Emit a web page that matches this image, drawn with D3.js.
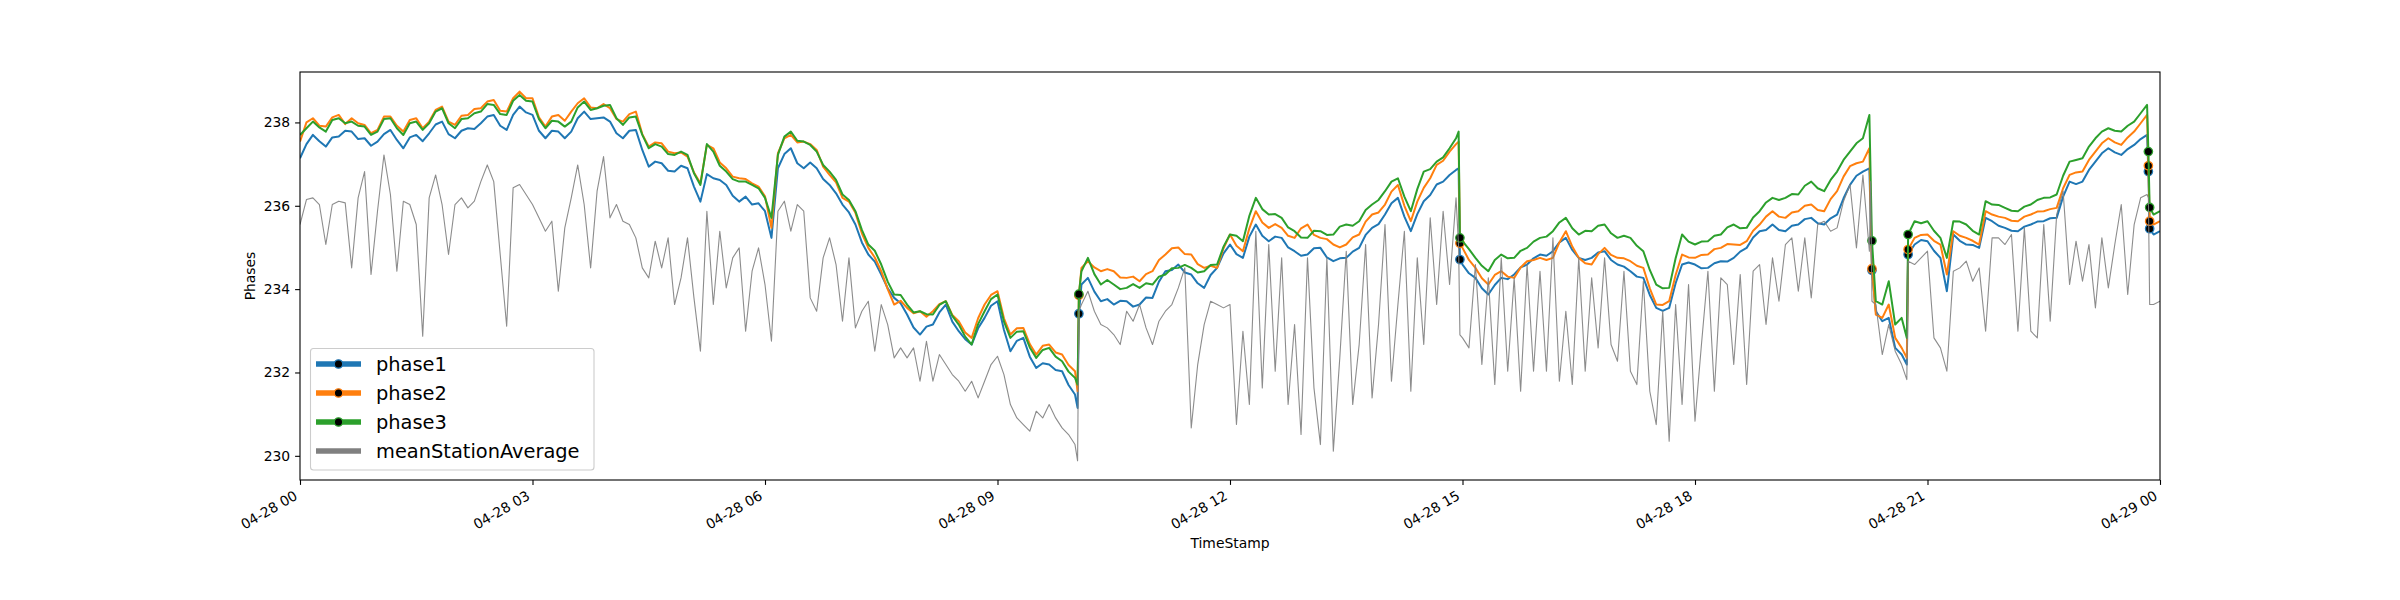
<!DOCTYPE html>
<html><head><meta charset="utf-8">
<script src="https://cdn.jsdelivr.net/npm/d3@7"></script>
<style>html,body{margin:0;padding:0;background:#fff;} svg{display:block;font-family:"DejaVu Sans",sans-serif;}</style>
</head><body><svg id="chart" width="2400" height="600"></svg>
<script>
// ---- data: 5-minute samples from 04-28 00:00 to 04-29 00:00 (289 each) ----
const phase1 = [
// 00:00-03:55
237.14,237.48,237.70,237.55,237.42,237.64,237.66,237.80,237.78,237.60,237.62,237.44,237.54,237.72,237.82,237.58,237.38,237.64,237.70,237.55,237.74,237.95,238.02,237.72,
237.62,237.80,237.86,237.84,237.98,238.14,238.18,237.92,237.82,238.18,238.38,238.24,238.18,237.80,237.62,237.80,237.78,237.62,237.78,238.10,238.26,238.08,238.10,238.12,
// 04:00-07:55
238.02,237.74,237.62,237.80,237.82,237.34,236.94,237.06,237.02,236.84,236.82,236.96,236.90,236.46,236.10,236.76,236.66,236.62,236.50,236.24,236.10,236.22,236.03,236.06,
235.87,235.23,236.90,237.24,237.38,237.02,236.90,237.04,236.90,236.64,236.50,236.30,236.03,235.84,235.55,235.12,234.83,234.66,234.35,234.02,233.79,233.66,233.39,233.08,
// 08:00-09:55
232.91,233.10,233.15,233.44,233.63,233.22,232.99,232.80,232.67,233.06,233.31,233.60,233.71,233.02,232.51,232.76,232.83,232.38,232.11,232.22,232.19,232.06,232.03,231.70,
// 10:00-11:55
231.47,234.11,234.27,233.94,233.71,233.76,233.63,233.72,233.71,233.58,233.63,233.80,233.79,234.18,234.43,234.46,234.59,234.40,234.35,234.14,234.03,234.34,234.51,234.86,
// 12:00-14:55
235.07,234.84,234.75,235.26,235.55,235.28,235.15,235.26,235.23,235.00,234.91,234.80,234.83,234.98,234.99,234.76,234.67,234.74,234.75,234.90,234.99,235.30,235.47,235.56,
235.79,236.06,236.19,235.74,235.39,235.80,236.11,236.26,236.51,236.58,236.74,236.86,
// 15:00-15:55
234.59,234.38,234.27,234.02,233.87,234.10,234.27,234.24,234.35,234.52,234.59,234.74,
// 16:00-19:55
234.83,234.80,234.91,235.12,235.23,234.94,234.75,234.70,234.75,234.88,234.91,234.70,234.59,234.54,234.43,234.30,234.27,233.86,233.55,233.48,233.55,234.14,234.59,234.64,
234.59,234.50,234.51,234.62,234.67,234.66,234.75,234.90,234.99,235.24,235.39,235.42,235.55,235.42,235.39,235.52,235.55,235.68,235.71,235.58,235.55,235.70,235.79,236.18,
// 20:00-24:00
236.50,236.72,236.82,236.90,233.47,233.23,233.31,232.59,232.43,234.83,235.07,235.18,235.15,234.92,234.75,233.95,235.31,235.16,235.07,235.06,234.99,235.71,235.63,235.52,
235.47,235.40,235.39,235.50,235.55,235.62,235.63,235.70,235.71,236.22,236.58,236.52,236.58,236.86,237.06,237.26,237.38,237.28,237.22,237.36,237.46,237.60,237.70,235.31,
235.39];

const phase2 = [
237.54,238.00,238.10,237.92,237.90,238.12,238.18,237.96,238.10,237.98,237.94,237.74,237.82,238.14,238.14,237.92,237.78,238.06,238.10,237.86,238.02,238.30,238.38,238.02,
237.94,238.16,238.18,238.32,238.34,238.50,238.54,238.28,238.26,238.58,238.74,238.58,238.58,238.12,237.90,238.14,238.18,238.04,238.26,238.46,238.58,238.36,238.34,238.44,
238.34,238.08,238.02,238.20,238.26,237.72,237.42,237.52,237.50,237.30,237.26,237.28,237.18,236.80,236.54,237.46,237.38,237.04,236.90,236.70,236.66,236.64,236.54,236.46,
236.23,235.47,237.26,237.62,237.70,237.52,237.54,237.48,237.34,236.94,236.74,236.56,236.19,236.10,235.83,235.34,234.99,234.76,234.43,234.00,233.63,233.72,233.55,233.42,
233.47,233.34,233.47,233.64,233.71,233.38,233.23,232.96,232.83,233.30,233.63,233.86,233.95,233.30,232.91,233.06,233.07,232.68,232.43,232.64,232.67,232.48,232.43,232.18,
232.03,234.51,234.67,234.52,234.43,234.48,234.43,234.28,234.27,234.30,234.19,234.36,234.43,234.70,234.83,234.98,235.00,234.84,234.83,234.60,234.51,234.56,234.51,234.98,
235.31,235.04,234.91,235.46,235.87,235.60,235.47,235.56,235.47,235.28,235.23,235.46,235.55,235.30,235.23,235.20,235.07,235.00,235.07,235.24,235.31,235.62,235.79,235.84,
236.03,236.34,236.50,236.00,235.63,236.10,236.43,236.66,236.98,237.08,237.30,237.48,
234.99,234.70,234.51,234.26,234.11,234.34,234.43,234.30,234.27,234.52,234.67,234.70,
234.75,234.70,234.75,235.12,235.39,235.02,234.75,234.62,234.59,234.84,234.99,234.82,234.75,234.74,234.67,234.56,234.51,234.02,233.63,233.62,233.71,234.34,234.83,234.76,
234.75,234.82,234.83,234.96,234.99,235.08,235.07,235.06,235.15,235.40,235.55,235.74,235.87,235.74,235.71,235.84,235.87,236.00,236.03,235.90,235.87,236.16,236.35,236.70,
236.95,237.02,237.06,237.38,233.39,233.31,233.63,232.83,232.59,234.95,235.23,235.30,235.31,235.16,235.07,234.35,235.39,235.28,235.23,235.16,235.07,235.87,235.79,235.74,
235.71,235.64,235.63,235.74,235.79,235.86,235.87,235.92,235.95,236.42,236.74,236.80,236.82,237.10,237.30,237.50,237.62,237.52,237.46,237.64,237.78,237.98,238.18,235.55,
235.63];

const phase3 = [
237.70,237.86,238.02,237.88,237.78,238.06,238.10,237.98,238.02,237.92,237.90,237.70,237.78,238.08,238.10,237.86,237.70,237.98,238.02,237.82,237.98,238.26,238.34,237.98,
237.86,238.08,238.10,238.22,238.26,238.44,238.42,238.20,238.18,238.52,238.66,238.52,238.50,238.08,237.86,238.04,238.02,237.90,238.02,238.36,238.50,238.30,238.34,238.40,
238.42,238.10,237.94,238.12,238.14,237.70,237.38,237.48,237.42,237.24,237.22,237.30,237.22,236.78,236.50,237.48,237.30,236.96,236.82,236.64,236.58,236.58,236.50,236.42,
236.19,235.71,237.22,237.66,237.78,237.56,237.54,237.46,237.30,236.98,236.82,236.62,236.27,236.14,235.87,235.42,235.07,234.92,234.59,234.18,233.87,233.86,233.63,233.44,
233.47,233.40,233.39,233.62,233.71,233.36,233.15,232.86,232.67,233.16,233.47,233.76,233.87,233.22,232.83,232.98,232.99,232.60,232.35,232.54,232.59,232.38,232.27,232.02,
231.87,234.43,234.75,234.36,234.11,234.22,234.11,234.00,234.03,234.12,234.03,234.14,234.11,234.30,234.35,234.50,234.51,234.58,234.51,234.40,234.43,234.58,234.59,235.02,
235.31,235.28,235.15,235.76,236.19,235.92,235.79,235.80,235.71,235.48,235.39,235.24,235.23,235.40,235.39,235.30,235.31,235.50,235.55,235.52,235.63,235.90,236.03,236.14,
236.35,236.58,236.66,236.22,235.87,236.40,236.82,236.88,237.06,237.16,237.38,237.62,
235.15,234.96,234.75,234.56,234.43,234.70,234.83,234.74,234.75,234.92,234.99,235.14,
235.23,235.26,235.39,235.60,235.71,235.46,235.31,235.40,235.39,235.52,235.55,235.34,235.23,235.28,235.23,235.04,234.91,234.46,234.11,234.02,234.03,234.74,235.31,235.14,
235.07,235.14,235.15,235.28,235.31,235.48,235.55,235.46,235.47,235.72,235.87,236.08,236.19,236.14,236.19,236.28,236.27,236.48,236.58,236.42,236.35,236.62,236.82,237.10,
237.30,237.50,237.62,238.18,233.71,233.63,234.19,233.15,233.31,235.31,235.63,235.58,235.63,235.40,235.23,234.75,235.63,235.62,235.55,235.40,235.31,236.11,236.03,236.02,
235.95,235.88,235.87,235.98,236.03,236.14,236.19,236.20,236.27,236.72,237.06,237.10,237.14,237.42,237.62,237.78,237.86,237.80,237.78,237.92,238.02,238.22,238.42,235.79,
235.87];

// extra phase samples around the data gaps (minutes since 00:00)
const phaseExtraTimes = [602,603,897,898,1217,1244,1431,1432];
const phase1Extra = [231.15,233.41,236.90,234.71,234.45,232.19,236.82,235.45];
const phase2Extra = [231.55,233.85,237.54,235.10,234.49,232.35,236.96,235.63];
const phase3Extra = [231.71,233.88,237.78,235.23,235.16,232.83,237.30,235.96];

const meanStationAverage = [
// 00:00-03:55
235.55,236.15,236.19,236.03,235.07,236.03,236.11,236.07,234.51,236.19,236.82,234.35,235.87,237.22,236.27,234.43,236.11,236.03,235.55,232.87,236.19,236.74,236.03,234.83,
236.03,236.19,235.95,236.11,236.58,236.98,236.58,234.83,233.11,236.43,236.51,236.27,236.03,235.71,235.39,235.63,233.95,235.47,236.19,236.98,236.03,234.51,236.35,237.18,
// 04:00-07:55
235.71,236.03,235.63,235.55,235.23,234.51,234.27,235.15,234.51,235.23,233.63,234.27,235.23,233.79,232.51,235.87,233.63,235.39,234.03,234.75,234.99,232.99,234.43,234.99,
234.11,232.75,235.87,236.11,235.39,236.03,235.87,233.79,233.47,234.75,235.23,234.59,233.23,234.75,233.07,233.47,233.71,232.51,233.63,233.15,232.35,232.59,232.35,232.59,
// 08:00-09:55
231.79,232.75,231.79,232.43,232.19,231.95,231.79,231.55,231.79,231.39,231.79,232.19,232.39,231.95,231.23,230.91,230.75,230.59,231.07,230.91,231.23,230.91,230.67,230.51,
// 10:00-11:55
230.27,233.63,233.95,233.47,233.15,233.07,232.91,232.67,233.47,233.23,233.63,233.07,232.67,233.23,233.47,233.63,234.03,234.51,230.67,232.19,233.15,233.71,233.63,233.55,
// 12:00-14:55
233.63,230.75,232.99,231.23,235.39,231.63,235.07,232.03,234.75,231.23,233.15,230.51,234.75,231.63,230.27,234.75,230.11,232.35,234.91,231.23,232.67,235.07,231.39,233.15,
235.55,231.79,233.63,235.39,231.55,234.75,232.67,235.71,233.63,235.87,234.11,236.19,
// 15:00-15:55
232.83,232.59,234.59,232.19,234.27,231.71,234.75,232.03,234.27,231.55,234.59,232.03,
// 16:00-19:55
234.43,232.03,235.23,231.79,233.47,231.71,234.75,232.03,234.27,232.59,234.75,232.67,232.27,234.43,232.03,231.71,234.19,231.55,230.75,233.47,230.35,233.63,231.23,234.11,
230.83,232.67,234.43,231.55,234.27,234.11,232.19,234.35,231.71,234.43,234.59,233.15,234.75,233.71,235.07,235.23,233.95,235.23,233.79,235.55,235.63,235.39,235.47,236.11,
// 20:00-24:00
236.51,234.99,236.74,234.91,233.63,232.43,233.15,232.51,232.19,234.67,234.59,234.75,234.91,232.83,232.59,232.03,234.43,234.51,234.67,234.19,234.51,232.99,235.23,235.23,
235.07,235.31,232.99,235.47,232.99,232.83,235.55,233.23,235.79,236.35,234.11,235.15,234.19,235.07,233.55,235.23,234.03,235.07,236.03,233.87,235.55,236.19,236.27,233.63,
233.71];
const meanExtraTimes = [602,603,897,898,1216,1217,1244,1431,1432];
const meanExtraValues = [229.88,233.47,235.00,232.90,236.58,233.71,231.83,236.19,233.63];

const markerTimes = [603,898,1217,1245,1431,1432];
const seriesNames = ["phase1","phase2","phase3","meanStationAverage"];
const seriesColors = ["#1f77b4","#ff7f0e","#2ca02c","#808080"];
const yTickValues = [230,232,234,236,238];
const yDomain = [229.42,239.21];

// ---- checks ----
[phase1,phase2,phase3,meanStationAverage].forEach((a,i)=>{ if(a.length!==289) throw new Error(seriesNames[i]+" length "+a.length); });

// ---- layout ----
const W=2400, H=600, L=300, R=2160, T=72, B=480;
const base = new Date(2019,3,28,0,0,0);
const toDate = m => new Date(base.getTime()+m*60000);
const x = d3.scaleTime().domain([toDate(0), toDate(1440)]).range([L,R]);
const y = d3.scaleLinear().domain(yDomain).range([B,T]);

const svg = d3.select("#chart");
svg.append("rect").attr("width",W).attr("height",H).attr("fill","#fff");
svg.append("defs").append("clipPath").attr("id","clip")
  .append("rect").attr("x",L).attr("y",T).attr("width",R-L).attr("height",B-T);

const line = d3.line().x(d=>x(toDate(d.t))).y(d=>y(d.v));
const plot = svg.append("g").attr("clip-path","url(#clip)");

function build(grid, extraT, extraV){
  return grid.map((v,i)=>({t:i*5, v})).concat(extraT.map((t,i)=>({t, v: extraV[i]}))).sort((a,b)=>a.t-b.t);
}
const phaseSeries = [
  build(phase1, phaseExtraTimes, phase1Extra),
  build(phase2, phaseExtraTimes, phase2Extra),
  build(phase3, phaseExtraTimes, phase3Extra)];
phaseSeries.forEach((data,i)=>{
  plot.append("path").datum(data).attr("d",line).attr("fill","none")
    .attr("stroke",seriesColors[i]).attr("stroke-width",2).attr("stroke-linejoin","round");
  plot.selectAll(null).data(data.filter(d=>markerTimes.includes(d.t))).enter().append("circle")
    .attr("cx",d=>x(toDate(d.t))).attr("cy",d=>y(d.v)).attr("r",4.2)
    .attr("fill","#000").attr("stroke",seriesColors[i]).attr("stroke-width",1.3);
});

const meanData = build(meanStationAverage, meanExtraTimes, meanExtraValues);
plot.append("path").datum(meanData).attr("d",line).attr("fill","none")
  .attr("stroke",seriesColors[3]).attr("stroke-width",1.1).attr("stroke-opacity",0.9).attr("stroke-linejoin","round");

// ---- axes ----
const xTicks = d3.range(0,1441,180).map(toDate);
const xAxis = svg.append("g").attr("transform",`translate(0,${B})`)
  .call(d3.axisBottom(x).tickValues(xTicks).tickFormat(d3.timeFormat("%m-%d %H")).tickSize(4.9).tickSizeOuter(0));
xAxis.select(".domain").remove();
xAxis.selectAll(".tick line").attr("stroke","#000").attr("stroke-width",1.1);
xAxis.selectAll(".tick text").attr("y",null).attr("dy",null).attr("x",null)
  .attr("text-anchor","end").attr("font-size",13.9).attr("fill","#000")
  .attr("font-family","DejaVu Sans")
  .attr("transform","translate(-2,18.5) rotate(-30)");

const yAxis = svg.append("g").attr("transform",`translate(${L},0)`)
  .call(d3.axisLeft(y).tickValues(yTickValues).tickFormat(d3.format("d")).tickSize(4.9).tickPadding(4.9).tickSizeOuter(0));
yAxis.select(".domain").remove();
yAxis.selectAll(".tick line").attr("stroke","#000").attr("stroke-width",1.1);
yAxis.selectAll(".tick text").attr("font-size",13.9).attr("fill","#000").attr("font-family","DejaVu Sans");

svg.append("rect").attr("x",L).attr("y",T).attr("width",R-L).attr("height",B-T)
  .attr("fill","none").attr("stroke","#000").attr("stroke-width",1.1);

svg.append("text").attr("x",(L+R)/2).attr("y",548).attr("text-anchor","middle")
  .attr("font-size",13.9).attr("fill","#000").text("TimeStamp");
svg.append("text").attr("transform",`translate(255,${(T+B)/2}) rotate(-90)`).attr("text-anchor","middle")
  .attr("font-size",13.9).attr("fill","#000").text("Phases");

// ---- legend ----
const lg = svg.append("g");
lg.append("rect").attr("x",310.5).attr("y",348.5).attr("width",283.5).attr("height",121.5)
  .attr("rx",3).attr("fill","#fff").attr("fill-opacity",0.8).attr("stroke","#cccccc").attr("stroke-width",1.1);
seriesNames.forEach((name,i)=>{
  const cy = 364 + i*29;
  lg.append("line").attr("x1",316).attr("x2",361).attr("y1",cy).attr("y2",cy)
    .attr("stroke",seriesColors[i]).attr("stroke-width",5.6);
  if (i<3) lg.append("circle").attr("cx",338.5).attr("cy",cy).attr("r",4.2)
    .attr("fill","#000").attr("stroke",seriesColors[i]).attr("stroke-width",1.3);
  lg.append("text").attr("x",376).attr("y",cy+6.5).attr("font-size",19.4).attr("fill","#000").text(name);
});
</script>
</body></html>
